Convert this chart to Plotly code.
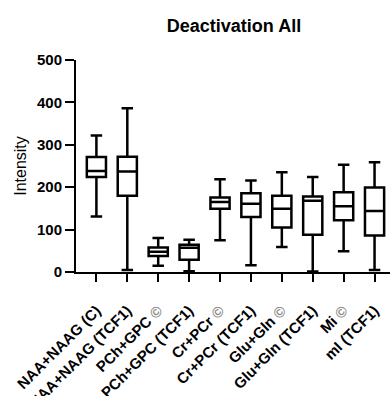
import plotly.graph_objects as go

categories = ["NAA+NAAG (C)", "NAA+NAAG (TCF1)", "PCh+GPC \u00a9", "PCh+GPC (TCF1)",
              "Cr+PCr \u00a9", "Cr+PCr (TCF1)", "Glu+Gln \u00a9", "Glu+Gln (TCF1)",
              "Mi \u00a9", "mI (TCF1)"]
lower = [131, 5, 15, 2, 75, 16, 59, 1, 49, 5]
q1 = [224, 180, 38, 29, 149, 130, 105, 88, 122, 86]
median = [238, 237, 48, 57, 165, 161, 149, 168, 155, 144]
q3 = [271, 272, 58, 64, 176, 186, 180, 178, 188, 199]
upper = [322, 386, 80, 76, 219, 216, 235, 224, 253, 259]
y_ticks = [0, 100, 200, 300, 400, 500]

font = "Liberation Sans, Arial, sans-serif"

# render the (c) glyph in light grey as in the reference
tick_text = [c.replace("\u00a9", "<span style='color:#8a8a8a'>\u00a9</span>")
             for c in categories]

fig = go.Figure()
fig.add_trace(go.Box(
    x=categories, q1=q1, median=median, q3=q3,
    lowerfence=lower, upperfence=upper,
    fillcolor="white", line=dict(color="black", width=2.5),
    whiskerwidth=0.6, width=0.62, boxpoints=False, showlegend=False,
    hoverinfo="skip",
))

fig.update_layout(
    width=390, height=396,
    margin=dict(l=76, r=0, t=60, b=124, autoexpand=False),
    plot_bgcolor="white", paper_bgcolor="white",
    title=dict(text="<b>Deactivation All</b>", x=0.6, xanchor="center",
               y=0.935, yanchor="middle",
               font=dict(family=font, size=18, color="black")),
    xaxis=dict(range=[-0.66, 9.5], showline=True, linecolor="black", linewidth=2,
               tickmode="array", tickvals=categories, ticktext=tick_text,
               ticks="outside", ticklen=8, tickwidth=2, tickcolor="black",
               tickangle=-45, showgrid=False, zeroline=False, automargin=False,
               ticklabelstandoff=14,
               tickfont=dict(family=font, size=15, color="black", weight="bold")),
    yaxis=dict(range=[0, 500], tickvals=y_ticks, showline=True, linecolor="black",
               linewidth=2, ticks="outside", ticklen=9, tickwidth=2,
               tickcolor="black", showgrid=False, zeroline=False, automargin=False,
               title=dict(text="Intensity", standoff=6,
                          font=dict(family=font, size=16, color="black")),
               tickfont=dict(family=font, size=15, color="black", weight="bold")),
)

fig.write_html("out.html")
